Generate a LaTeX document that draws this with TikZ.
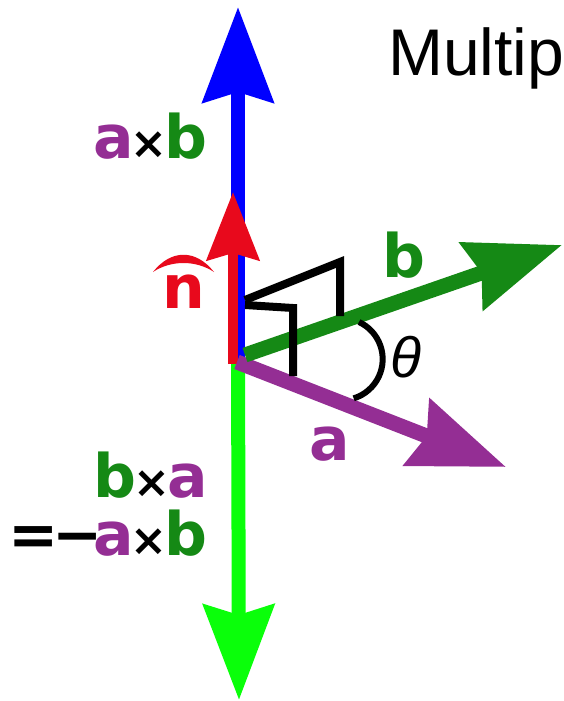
\documentclass[tikz,border=0pt]{standalone}
\usepackage{fontspec}
\setmainfont{Liberation Sans}
\newfontfamily\vecfont{DejaVu Sans Bold}
\usetikzlibrary{arrows.meta}
\definecolor{vecpurple}{RGB}{148,46,148}
\definecolor{vecgreen}{RGB}{21,137,21}
\definecolor{negreen}{RGB}{10,255,10}
\definecolor{nred}{RGB}{232,9,28}
\newcommand{\avec}{\textcolor{vecpurple}{a}}
\newcommand{\bvec}{\textcolor{vecgreen}{b}}
\newcommand{\crossx}{{\fontsize{44}{44}\selectfont\kern-3pt\texttimes\kern-3pt}}

\begin{document}
\begin{tikzpicture}[x=1pt,y=-1pt,
    vec/.style={line width=14pt,-{Stealth[length=95pt,width=70pt,inset=10pt]}},
    unitvec/.style={line width=10pt,-{Stealth[length=68pt,width=52pt,inset=7pt]}},
    lbl/.style={font=\vecfont\fontsize{60}{60}\selectfont,inner sep=0pt},
    rightangle/.style={draw=black,line width=8pt}]

        \useasboundingbox (0,0) rectangle (563,701);

        % Points
        \coordinate (O) at (238,362);
        \coordinate (nbase) at (233,364);
        \coordinate (bstart) at (245,355);
        \coordinate (astart) at (237,362);
        \coordinate (axbtip) at (238,7);
        \coordinate (ntip) at (233,192);
        \coordinate (bxatip) at (239,700);
        \coordinate (btip) at (562,245);
        \coordinate (atip) at (506,467);

        % Vectors
        \draw[vec,negreen] (O) -- (bxatip);
        \draw[vec,blue] (O) -- (axbtip);
        \draw[unitvec,nred] (nbase) -- (ntip);
        \draw[vec,vecpurple,line width=15pt] (astart) -- (atip);
        \draw[vec,vecgreen,line width=15pt] (bstart) -- (btip);

        % Right angles and angle
        \draw[rightangle] (245,300) -- (340,262) -- (340,316);
        \draw[rightangle] (245,305) -- (293,308) -- (293,376);
        \draw[black,line width=6pt] (359,322) arc[start angle=-65, end angle=73, radius=41];

        % Labels
        \node[lbl,anchor=base east] (axb) at (208,158) {\avec\crossx\bvec};
        \node[lbl,anchor=base,text=nred] (n) at (184,308) {n};
        \fill[nred] (153,272) .. controls (171,249) and (196,249) .. (214,272)
            .. controls (196,260) and (171,260) .. (153,272) -- cycle;
        \node[lbl,anchor=base west,text=vecgreen] (blabel) at (382,277) {b};
        \node[lbl,anchor=base west,text=vecpurple] (alabel) at (309,460) {a};
        \node[font=\fontsize{57}{57}\selectfont\itshape,inner sep=0pt] (theta) at (406,357) {θ};
        \node[lbl,anchor=base east] (bxa) at (208,497) {\bvec\crossx\avec};
        \node[lbl,anchor=base east] (neg) at (208,555) {=\kern-7pt−\kern-9pt\avec\crossx\bvec};
        \node[font=\fontsize{66}{66}\selectfont,inner sep=0pt,anchor=base west] (title) at (388,75) {Multip};

    \end{tikzpicture}
\end{document}
